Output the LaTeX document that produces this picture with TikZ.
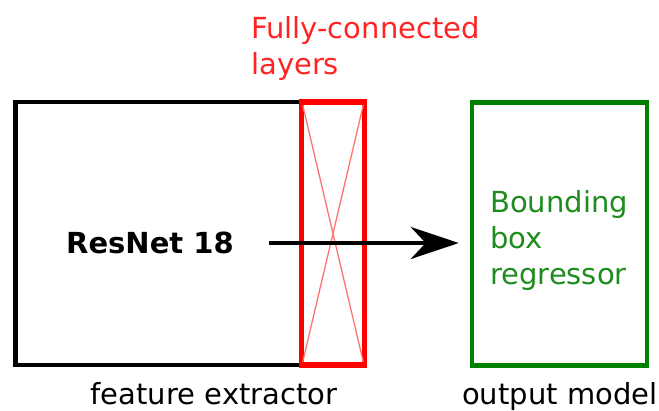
\documentclass[tikz,border=0pt]{standalone}
\usepackage{fontspec}
\setmainfont{DejaVu Sans}
\usetikzlibrary{arrows.meta}
\definecolor{fcred}{RGB}{255,0,0}
\definecolor{fctext}{RGB}{255,35,35}
\definecolor{boxgreen}{RGB}{0,128,0}
\definecolor{txtgreen}{RGB}{30,140,30}
\begin{document}
\begin{tikzpicture}[x=1pt,y=-1pt,
  lbl/.style={font=\fontsize{29}{36}\selectfont, inner sep=0pt},
  blockbox/.style={draw, minimum width=#1, minimum height=263pt, inner sep=0pt},
]
\useasboundingbox (0,0) rectangle (659,410);
% boxes
\node[blockbox=286pt, draw=black, line width=4.5pt] (fe) at (158.5,233.5) {};
\node[blockbox=63pt, draw=fcred, line width=5.5pt] (fc) at (333,233.5) {};
\node[blockbox=175pt, draw=boxgreen, line width=4.5pt] (om) at (559.5,234) {};
% X inside FC
\draw[fcred!55, line width=1.3pt] ([xshift=4pt,yshift=-6pt]fc.north west) -- ([xshift=-4pt,yshift=6pt]fc.south east);
\draw[fcred!55, line width=1.3pt] ([xshift=-4pt,yshift=-6pt]fc.north east) -- ([xshift=4pt,yshift=6pt]fc.south west);
% texts
\node[lbl, font=\fontsize{29}{36}\selectfont\bfseries] (rn) at (150,243) {ResNet 18};
\node[lbl, text=fctext, align=left, anchor=north west] (fclbl) at (251,16) {Fully-connected\\layers};
\node[lbl, text=txtgreen, align=left, anchor=north west] (bbr) at (490,190) {Bounding\\box\\regressor};
\node[lbl, anchor=base] (felbl) at (214,404) {feature extractor};
\node[lbl, anchor=base west] (omlbl) at (462,404) {output model};
% arrow
\coordinate (astart) at (269,243);
\draw[line width=4.5pt, -{Stealth[length=48pt, width=32pt, inset=15pt]}, shorten >=11pt] (astart) -- (om.west |- astart);
\end{tikzpicture}
\end{document}
